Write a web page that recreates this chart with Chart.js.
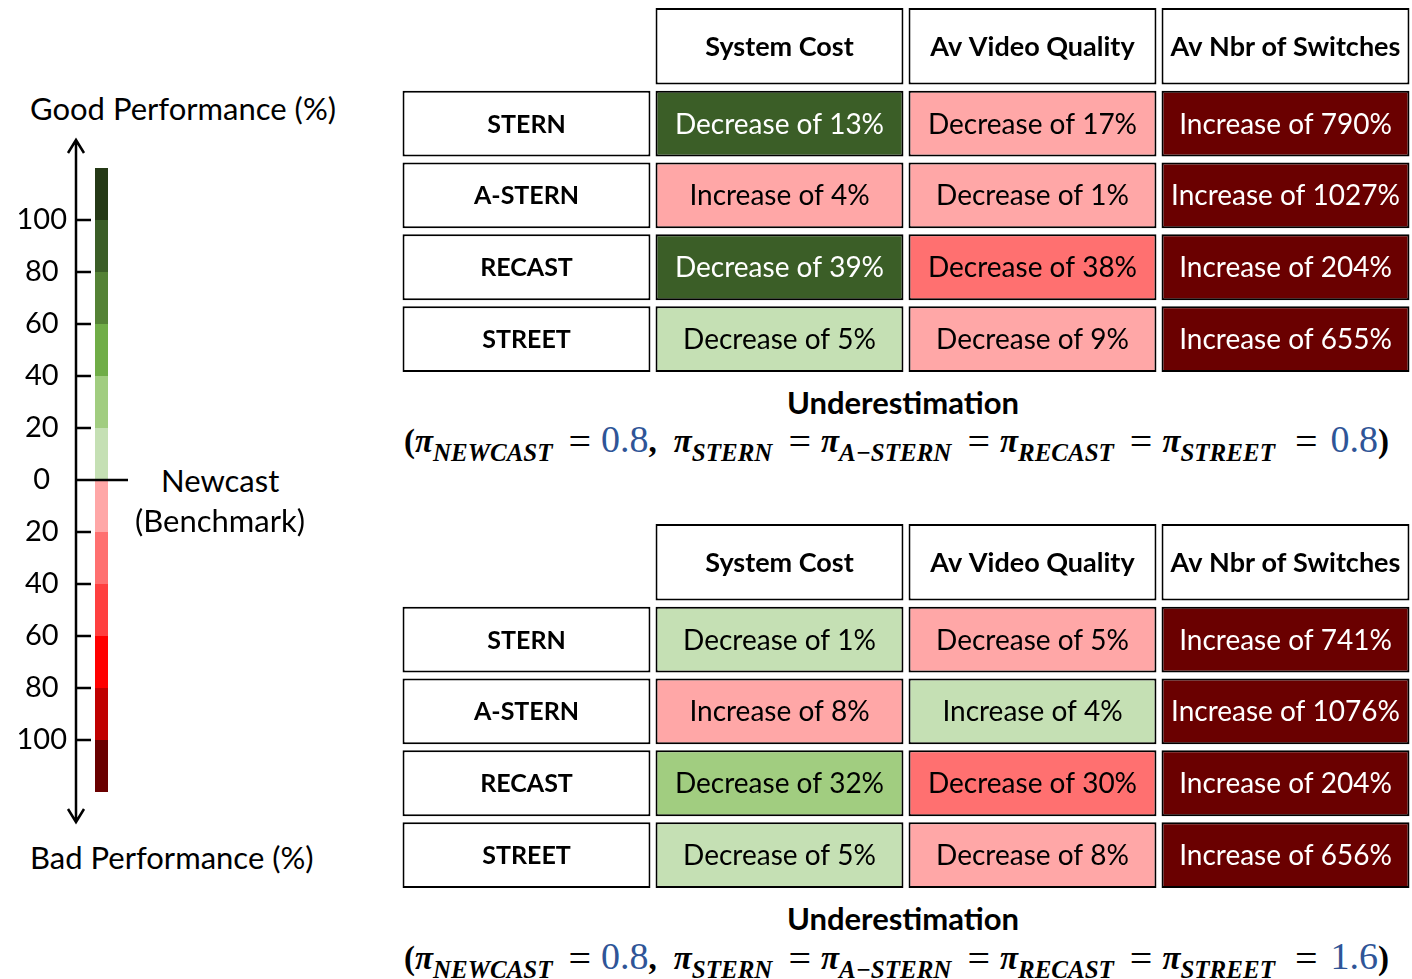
<!DOCTYPE html>
<html>
<head>
<meta charset="utf-8">
<script src="https://cdn.jsdelivr.net/npm/chart.js@4.4.1/dist/chart.umd.min.js"></script>
<style>
  html, body { margin: 0; padding: 0; background: #fff; overflow: hidden; }
  body { width: 1412px; height: 979px; position: relative; font-family: Lato, sans-serif; color: #000; }
  canvas { position: absolute; }
  .lbl { position: absolute; font-size: 31px; line-height: 36px; white-space: nowrap; }
  .ttl { position: absolute; left: 400px; width: 1006px; text-align: center; font-weight: bold; font-size: 31px; line-height: 36px; }
  .frm { position: absolute; left: 404px; font-family: "Liberation Serif", serif; font-weight: bold; font-size: 33px; line-height: 40px; white-space: nowrap; }
  .frm i { font-style: italic; }
  .frm sub { font-size: 25px; font-style: italic; vertical-align: -9px; line-height: 0; }
  .frm .eq { display: inline-block; position: relative; top: 3px; margin: 0 10px 0 16px; font-weight: normal; font-size: 40px; line-height: 0; }
  .frm .eq.wide { margin-left: 20px; margin-right: 13px; }
  .frm .v { color: #2f5597; font-weight: normal; font-size: 38px; line-height: 0; }
  .frm .cm { margin-right: 17px; }
</style>
</head>
<body>

<canvas id="scaleBar" width="140" height="700" style="left:0;top:130px"></canvas>
<canvas id="tableTop" width="1012" height="370" style="left:400px;top:5px"></canvas>
<canvas id="tableBottom" width="1012" height="370" style="left:400px;top:521px"></canvas>

<div class="lbl" style="left:30px;top:90px">Good Performance (%)</div>
<div class="lbl" style="left:161px;top:462px">Newcast</div>
<div class="lbl" style="left:135px;top:502px">(Benchmark)</div>
<div class="lbl" style="left:30px;top:839px">Bad Performance (%)</div>

<div class="ttl" style="top:384px">Underestimation</div>
<div class="frm" id="formulaTop" style="top:421px"></div>
<div class="ttl" style="top:900px">Underestimation</div>
<div class="frm" id="formulaBottom" style="top:938px"></div>

<script>
// colour scale, from 0 outwards in steps of 20 %
var goodColors = ["#c5e0b4", "#a1cd80", "#70ad47", "#548235", "#3b5e27", "#253916"];
var badColors  = ["#ffa7a7", "#ff7070", "#ff3f3f", "#ff0000", "#c00000", "#6a0000"];
var bandStep = 20;

var metrics = ["System Cost", "Av Video Quality", "Av Nbr of Switches"];
var schemes = ["STERN", "A-STERN", "RECAST", "STREET"];

// % change against Newcast (negative = decrease)
var topCost      = [-13, 4, -39, -5];
var topQuality   = [-17, -1, -38, -9];
var topSwitches  = [790, 1027, 204, 655];
var bottomCost     = [-1, 8, -32, -5];
var bottomQuality  = [-5, 4, -30, -8];
var bottomSwitches = [741, 1076, 204, 656];

// shade of each cell on the scale: +n = n-th green band, -n = n-th red band
var topCostShade      = [5, -1, 5, 1];
var topQualityShade   = [-1, -1, -2, -1];
var topSwitchesShade  = [-6, -6, -6, -6];
var bottomCostShade     = [1, -1, 2, 1];
var bottomQualityShade  = [-1, 1, -2, -1];
var bottomSwitchesShade = [-6, -6, -6, -6];

var piNewcast = [0.8, 0.8];
var piOthers  = [0.8, 1.6];

function shadeColor(s) {
    return s > 0 ? goodColors[s - 1] : badColors[-s - 1];
}
function changeText(v) {
    return (v < 0 ? "Decrease of " : "Increase of ") + Math.abs(v) + "%";
}

// ---------- colour bar ----------
var barSets = [];
goodColors.forEach(function (c) {
    barSets.push({ data: [bandStep], backgroundColor: c });
});
badColors.forEach(function (c) {
    barSets.push({ data: [-bandStep], backgroundColor: c });
});

var axisArrows = {
    id: "axisArrows",
    afterDraw: function (chart) {
        var ctx = chart.ctx;
        var y = chart.scales.y;
        var x0 = y.right;
        var top = chart.chartArea.top - 28, bottom = chart.chartArea.bottom + 30;
        ctx.save();
        ctx.strokeStyle = "#000";
        ctx.lineWidth = 2.5;
        ctx.beginPath();
        ctx.moveTo(x0, top); ctx.lineTo(x0, bottom);
        ctx.moveTo(x0 - 8, top + 13); ctx.lineTo(x0, top); ctx.lineTo(x0 + 8, top + 13);
        ctx.moveTo(x0 - 8, bottom - 13); ctx.lineTo(x0, bottom); ctx.lineTo(x0 + 8, bottom - 13);
        y.ticks.forEach(function (t) {
            if (t.value === 0 || Math.abs(t.value) > 100) return;
            var py = y.getPixelForValue(t.value);
            ctx.moveTo(x0, py); ctx.lineTo(x0 + 15, py);
        });
        var pz = y.getPixelForValue(0);
        ctx.moveTo(x0, pz); ctx.lineTo(x0 + 52, pz);
        ctx.stroke();
        ctx.restore();
    }
};

new Chart("scaleBar", {
    type: "bar",
    data: { labels: [""], datasets: barSets },
    options: {
        responsive: false,
        animation: false,
        layout: { padding: { top: 38, bottom: 38, right: 13 } },
        datasets: { bar: { barPercentage: 0.255, categoryPercentage: 1 } },
        plugins: { legend: { display: false }, tooltip: { enabled: false } },
        scales: {
            x: { display: false, stacked: true },
            y: {
                stacked: true,
                min: -120, max: 120,
                afterFit: function (s) { s.width = 76; },
                grid: { display: false, drawTicks: false },
                border: { display: false },
                ticks: {
                    stepSize: 20,
                    padding: 9,
                    crossAlign: "center",
                    color: "#000",
                    font: { family: "Lato", size: 29 },
                    callback: function (v) { return Math.abs(v) > 100 ? "" : Math.abs(v); }
                }
            }
        }
    },
    plugins: [axisArrows]
});

// ---------- tables ----------
var rowWeights = [1.15, 1, 1, 1, 1];
var rowGap = 0.042;
var rowEdges = [0];
rowWeights.forEach(function (w, i) { rowEdges.push(rowEdges[i] + w); });
function rowSpan(r) { return [rowEdges[r] + rowGap, rowEdges[r + 1] - rowGap]; }

function tableSets(cost, quality, switches, costS, qualS, switchS) {
    var sets = [{
        data: [null, rowSpan(0), rowSpan(0), rowSpan(0)],
        backgroundColor: "#fff",
        texts: [""].concat(metrics),
        textColors: ["#000", "#000", "#000", "#000"],
        header: true
    }];
    schemes.forEach(function (name, r) {
        var shades = [costS[r], qualS[r], switchS[r]];
        var vals = [cost[r], quality[r], switches[r]];
        sets.push({
            data: [0, 1, 2, 3].map(function () { return rowSpan(r + 1); }),
            backgroundColor: ["#fff"].concat(shades.map(shadeColor)),
            texts: [name].concat(vals.map(changeText)),
            textColors: ["#000"].concat(shades.map(function (s) { return Math.abs(s) >= 5 ? "#fff" : "#000"; })),
            header: false
        });
    });
    return sets;
}

var cellText = {
    id: "cellText",
    afterDatasetsDraw: function (chart) {
        var ctx = chart.ctx;
        ctx.save();
        ctx.textAlign = "center";
        ctx.textBaseline = "middle";
        chart.data.datasets.forEach(function (ds, i) {
            chart.getDatasetMeta(i).data.forEach(function (bar, j) {
                var txt = ds.texts[j];
                if (!txt) return;
                var p = bar.getProps(["x", "y", "base"], true);
                if (ds.header) ctx.font = "bold 27px Lato";
                else if (j === 0) ctx.font = "bold 25px Lato";
                else ctx.font = "28px Lato";
                ctx.fillStyle = ds.textColors[j];
                ctx.fillText(txt, p.x, (p.y + p.base) / 2 + 1);
            });
        });
        ctx.restore();
    }
};

function drawTable(id, sets) {
    new Chart(id, {
        type: "bar",
        data: { labels: ["", metrics[0], metrics[1], metrics[2]], datasets: sets },
        options: {
            responsive: false,
            animation: false,
            datasets: {
                bar: {
                    grouped: false,
                    barPercentage: 0.98,
                    categoryPercentage: 1,
                    borderColor: "#000",
                    borderWidth: 2,
                    borderSkipped: false
                }
            },
            plugins: { legend: { display: false }, tooltip: { enabled: false } },
            scales: {
                x: { display: false },
                y: { display: false, min: 0, max: rowEdges[rowEdges.length - 1], reverse: true }
            }
        },
        plugins: [cellText]
    });
}

drawTable("tableTop", tableSets(topCost, topQuality, topSwitches, topCostShade, topQualityShade, topSwitchesShade));
drawTable("tableBottom", tableSets(bottomCost, bottomQuality, bottomSwitches, bottomCostShade, bottomQualityShade, bottomSwitchesShade));

// ---------- formulas ----------
function formula(k) {
    var eq = '<span class="eq">=</span>';
    return "(<i>π</i><sub>NEWCAST</sub>" + eq + '<span class="v">' + piNewcast[k].toFixed(1) + '</span><span class="cm">,</span>' +
        "<i>π</i><sub>STERN</sub>" + eq + "<i>π</i><sub>A−STERN</sub>" + eq +
        "<i>π</i><sub>RECAST</sub>" + eq + "<i>π</i><sub>STREET</sub>" + '<span class="eq wide">=</span>' +
        '<span class="v">' + piOthers[k].toFixed(1) + "</span>)";
}
document.getElementById("formulaTop").innerHTML = formula(0);
document.getElementById("formulaBottom").innerHTML = formula(1);
</script>
</body>
</html>
